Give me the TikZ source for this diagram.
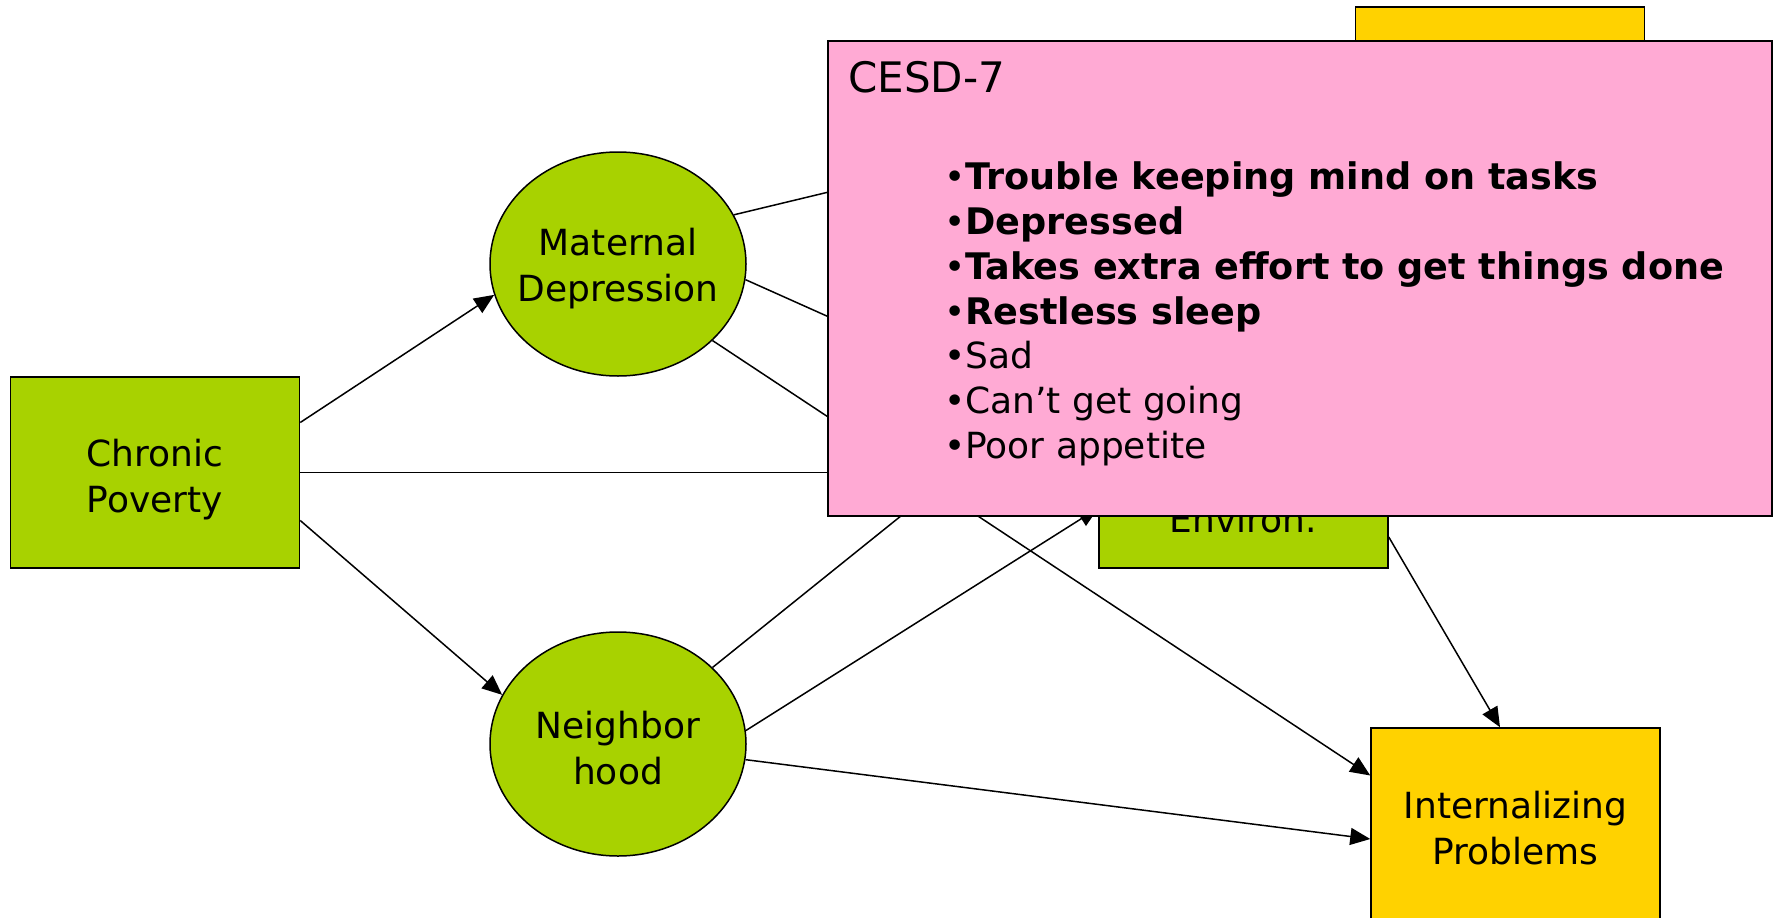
\documentclass[tikz,border=0pt]{standalone}
\usepackage{fontspec}
\setmainfont{DejaVu Sans}
\usetikzlibrary{arrows.meta,shapes.geometric}
\definecolor{grfill}{RGB}{168,210,0}
\definecolor{yelfill}{RGB}{255,210,0}
\definecolor{pinkfill}{RGB}{255,170,212}
\newcommand{\bitem}[1]{{\mdseries\fontsize{36}{46}\selectfont •}{\bfseries\fontsize{36.6}{46}\selectfont #1}}
\begin{document}
\begin{tikzpicture}[x=1pt,y=-1pt,
  lbl/.style={font=\fontsize{36}{46}\selectfont, align=center, inner sep=0pt},
  gbox/.style={draw=black, line width=1.5pt, fill=grfill, minimum width=289pt, minimum height=191pt, inner sep=0pt},
  ybox/.style={gbox, fill=yelfill},
  gell/.style={ellipse, draw=black, line width=1.5pt, fill=grfill, minimum width=256pt, minimum height=224pt, inner sep=0pt},
  conn/.style={line width=1.5pt, -{Triangle[length=20pt,width=17pt]}},
  item/.style={anchor=base west, inner sep=0pt, font=\fontsize{36}{46}\selectfont}
]
\useasboundingbox (0,0) rectangle (1773,918);
% nodes
\node[gbox] (cp) at (155,472.5) {};
\node[lbl] (cpt) at ([yshift=-7pt]cp.center) {Chronic\\Poverty};
\node[gell] (md) at (618,264) {};
\node[lbl] (mdt) at ([yshift=-5pt]md.center) {Maternal\\Depression};
\node[gell] (nb) at (618,744) {};
\node[lbl] (nbt) at ([yshift=-4pt]nb.center) {Neighbor\\hood};
\node[gbox] (he) at (1243.5,472.5) {};
\node[anchor=base, lbl] (het) at (1243,532) {Environ.};
\node[ybox] (ext) at (1500,102.5) {};
\node[ybox] (ip) at (1515.5,823.5) {};
\node[lbl] (ipt) at ([yshift=-5pt]ip.center) {Internalizing\\Problems};
% connectors
\draw[conn] ([yshift=50pt]cp.east) -- (md.194);
\draw[conn] ([yshift=-48pt]cp.east) -- (nb.157);
\draw[conn] (cp.east) -- (he.west);
\draw[conn] (md.23) -- ([yshift=37pt]ext.west);
\draw[conn] (md.-7) -- ([yshift=35pt]he.west);
\draw[conn] (md.-39.5) -- ([yshift=48pt]ip.west);
\draw[conn] (nb.39.5) -- ([yshift=-48.5pt]ext.west);
\draw[conn] (nb.6.6) -- ([yshift=-35.5pt]he.west);
\draw[conn] (nb.-7) -- ([yshift=-15.5pt]ip.west);
\draw[conn] ([yshift=-64.5pt]he.east) -- ([xshift=-15.5pt]ip.north);
% pink overlay
\node[draw=black, line width=1.5pt, fill=pinkfill, minimum width=944pt, minimum height=475pt, inner sep=0pt, anchor=north west] (cesd) at (827,40) {};
\node[item, font=\fontsize{42}{46}\selectfont] (t0) at (848,92) {CESD-7};
\node[item] (t1) at (944,189) {\bitem{Trouble keeping mind on tasks}};
\node[item] (t2) at (944,234) {\bitem{Depressed}};
\node[item] (t3) at (944,279) {\bitem{Takes extra effort to get things done}};
\node[item] (t4) at (944,324) {\bitem{Restless sleep}};
\node[item] (t5) at (944,368) {•Sad};
\node[item] (t6) at (944,413) {•Can’t get going};
\node[item] (t7) at (944,458) {•Poor appetite};
\end{tikzpicture}
\end{document}
